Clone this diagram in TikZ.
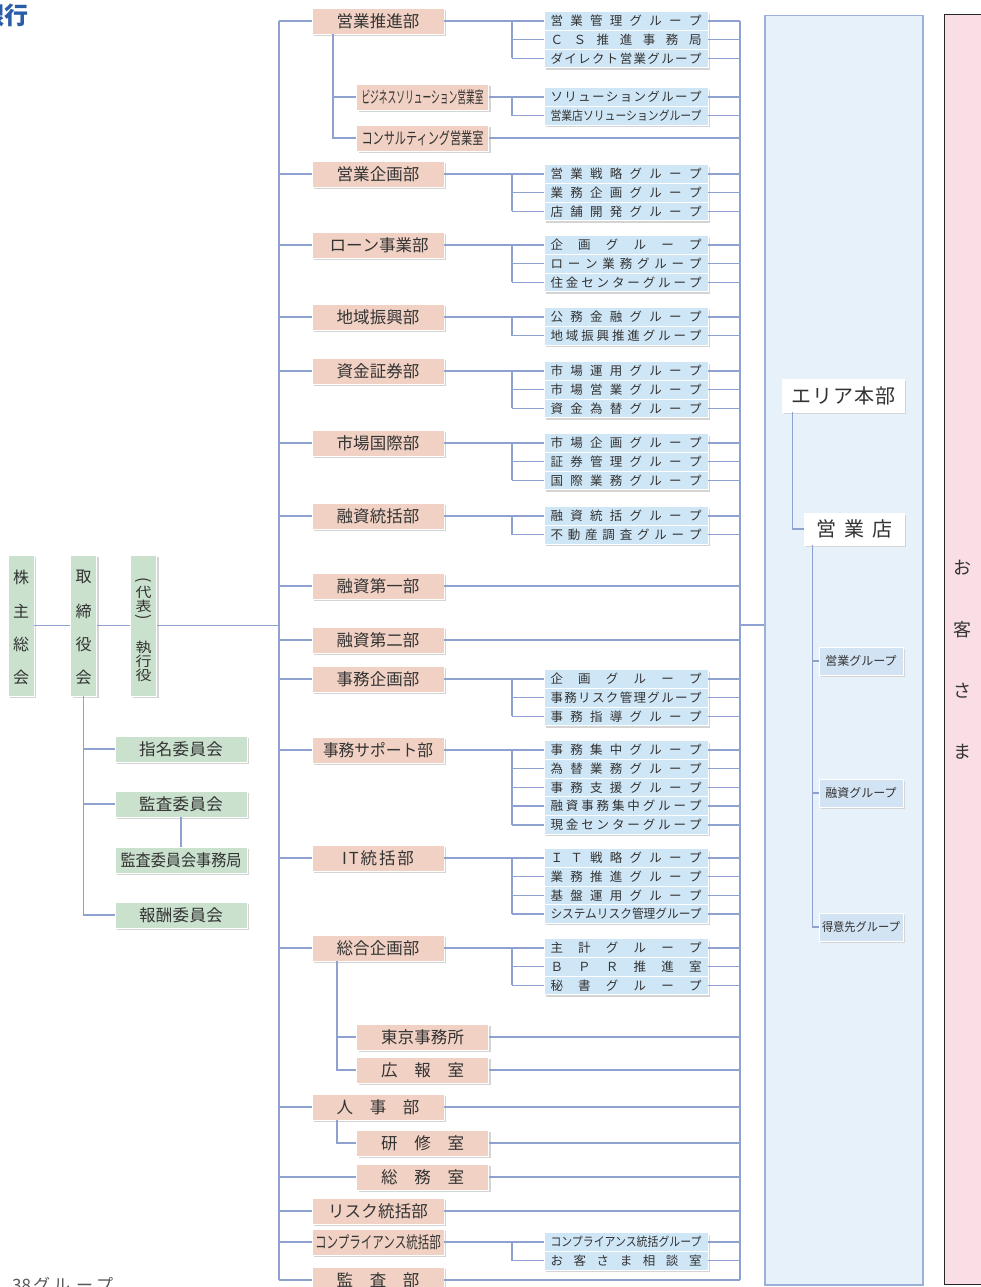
\documentclass[tikz,border=0pt]{standalone}
\usepackage{fontspec}
\setmainfont{Noto Sans CJK JP}
\usepackage{graphicx}
\usetikzlibrary{shadows}
\definecolor{lnc}{HTML}{8FA2CF}
\definecolor{deptc}{HTML}{F0D1C3}
\definecolor{grpc}{HTML}{CFE6F6}
\definecolor{grnc}{HTML}{C9E1CD}
\definecolor{areac}{HTML}{E6F1F9}
\definecolor{areae}{HTML}{9CB0D8}
\definecolor{pinkc}{HTML}{F9DEE6}
\definecolor{sgrpc}{HTML}{D2E3F3}
\definecolor{ttlc}{HTML}{2B5CA8}
\definecolor{txt}{HTML}{333333}
\makeatletter
\newcommand\dst[2][151pt]{\hbox to #1{\dst@a#2\dst@end}}
\def\dst@end{\dst@end}
\def\dst@a#1{\ifx#1\dst@end\else#1\expandafter\dst@b\fi}
\def\dst@b#1{\ifx#1\dst@end\else\hfill#1\expandafter\dst@b\fi}
\makeatother
\newcommand\sqz[2][151pt]{\resizebox{#1}{\height}{#2}}
\newcommand\vsq[1]{\scalebox{1}[0.85]{#1}}
\tikzset{
 ln/.style={draw=lnc, line width=1.5pt},
 shbox/.style={draw=white, line width=0.8pt, inner sep=0pt, text=txt,
   general shadow={fill=black!17, shadow xshift=2pt, shadow yshift=-2pt}},
 deptbox/.style={shbox, fill=deptc, minimum width=132pt, minimum height=26pt, font=\fontsize{16.5}{18}\selectfont},
 subbox/.style={deptbox},
 grpbox/.style={shbox, fill=grpc, minimum width=164pt, minimum height=18.7pt, font=\fontsize{12.5}{14}\selectfont},
 commbox/.style={shbox, fill=grnc, minimum width=132pt, minimum height=26pt, font=\fontsize{16.5}{18}\selectfont},
 vgbox/.style={shbox, fill=grnc, minimum width=26pt, minimum height=141pt},
 vch/.style={inner sep=0pt, text=txt, font=\fontsize{16}{18}\selectfont},
 abox/.style={shbox, fill=white, font=\fontsize{20}{22}\selectfont},
 sgbox/.style={shbox, fill=sgrpc, minimum width=84pt, minimum height=28pt, font=\fontsize{12}{14}\selectfont},
 custch/.style={inner sep=0pt, text=txt, font=\fontsize{18}{20}\selectfont},
}
\newcommand\grps[3]{%
  \foreach \gtext [count=\gi] in {#3}{%
    \pgfmathsetmacro\gy{#2+18.7*(\gi-1)}%
    \node[grpbox] (#1-\gi) at (626,\gy) {\gtext};
    \draw[ln] (512,\gy) -- (#1-\gi.west);
    \draw[ln] (#1-\gi.east) -- (#1-\gi.east -| rt);
    \xdef\glast{\gy}%
  }
  \draw[ln] (#1.east) -- (512,#2) -- (512,\glast);
}
\begin{document}
\begin{tikzpicture}[x=1pt,y=-1pt]
\useasboundingbox (0,0) rectangle (981,1287);
\fill[white] (0,0) rectangle (981,1287);

% title and footer
\node[anchor=east, inner sep=0pt, font=\fontsize{24}{26}\selectfont\bfseries, text=ttlc] (title) at (29,15) {銀行};
\node[anchor=north west, inner sep=0pt, font=\fontsize{17}{19}\selectfont, text=black!65] (cnt) at (12,1277) {38\hspace{2pt}グ\hspace{3pt}ル\hspace{6pt}ー\hspace{3pt}プ};

% customer box
\node[fill=pinkc, minimum width=46pt, minimum height=1269pt, anchor=north west, inner sep=0pt] (cust) at (944,15) {};
\draw[black!85, line width=1pt] (cust.north east) -- (cust.north west) -- (cust.south west) -- (cust.south east);
\foreach \c/\yy [count=\i] in {お/568,客/630,さ/691,ま/752}
  \node[custch] (cu\i) at (962,\yy) {\c};

% area box
\node[fill=areac, draw=areae, line width=1.5pt, minimum width=158pt, minimum height=1269pt, anchor=north west, inner sep=0pt] (area) at (764,15) {};
\node[abox, minimum width=122pt, minimum height=33pt] (ahq) at (843,395.5) {\dst[104pt]{エリア本部}};
\node[abox, minimum width=100pt, minimum height=32pt] (shop) at (854,529) {\dst[76pt]{営業店}};
\coordinate (av) at ([xshift=11pt]ahq.south west);
\draw[ln] (av) |- (shop.west);
\node[sgbox] (sg1) at (861,661) {営業グループ};
\node[sgbox] (sg2) at (861,793) {融資グループ};
\node[sgbox] (sg3) at (861,927) {\sqz[78pt]{得意先グループ}};
\coordinate (sv) at ([xshift=9pt]shop.south west);
\draw[ln] (sv) |- (sg3.west);
\draw[ln] (sv |- sg1.west) -- (sg1.west);
\draw[ln] (sv |- sg2.west) -- (sg2.west);

% spines
\coordinate (lt) at (279,21);
\coordinate (lb) at (279,1280);
\coordinate (rt) at (740,21);
\coordinate (rb) at (740,1280);
\draw[ln] (lt) -- (lb);
\draw[ln] (rt) -- (rb);
\coordinate (rm) at (740,625);
\draw[ln] (rm) -- (rm -| area.west);

% left governance
\node[vgbox] (kabu) at (21,625.5) {};
\node[vgbox] (tori) at (83.5,625.5) {};
\node[vgbox] (shik) at (143.5,625.5) {};
\foreach \c/\yy [count=\i] in {株/577,主/611,総/644,会/677}
  \node[vch] (ka\i) at (21,\yy) {\c};
\foreach \c/\yy [count=\i] in {取/577,締/611,役/644,会/677}
  \node[vch] (to\i) at (83.5,\yy) {\c};
\node[vch] (sh1) at (143.5,581) {\rotatebox[origin=c]{-90}{(}};
\node[vch] (sh2) at (143.5,592.5) {\vsq{代}};
\node[vch] (sh3) at (143.5,606.5) {\vsq{表}};
\node[vch] (sh4) at (143.5,618) {\rotatebox[origin=c]{-90}{)}};
\node[vch] (sh5) at (143.5,647) {\vsq{執}};
\node[vch] (sh6) at (143.5,661) {\vsq{行}};
\node[vch] (sh7) at (143.5,675) {\vsq{役}};
\draw[ln] (kabu.east) -- (tori.west);
\draw[ln] (tori.east) -- (shik.west);
\draw[ln] (shik.east) -- (shik.east -| lt);

\node[commbox] (c1) at (181,749) {\dst[84pt]{指名委員会}};
\node[commbox] (c2) at (181,804) {\dst[84pt]{監査委員会}};
\node[commbox] (c3) at (181,860) {\sqz[121pt]{監査委員会事務局}};
\node[commbox] (c4) at (181,915) {\dst[84pt]{報酬委員会}};
\draw[ln] (tori.south) |- (c4.west);
\draw[ln] (tori.south |- c1.west) -- (c1.west);
\draw[ln] (tori.south |- c2.west) -- (c2.west);
\draw[ln] (c2.south) -- (c3.north);

% departments
\node[deptbox] (d1) at (378,21) {\dst[83pt]{営業推進部}};
\node[deptbox] (d2) at (378,174) {\dst[83pt]{営業企画部}};
\node[deptbox] (d3) at (378,245) {\dst[97pt]{ローン事業部}};
\node[deptbox] (d4) at (378,317) {\dst[83pt]{地域振興部}};
\node[deptbox] (d5) at (378,371) {\dst[83pt]{資金証券部}};
\node[deptbox] (d6) at (378,443) {\dst[83pt]{市場国際部}};
\node[deptbox] (d7) at (378,516) {\dst[83pt]{融資統括部}};
\node[deptbox] (d8) at (378,586) {\dst[83pt]{融資第一部}};
\node[deptbox] (d9) at (378,640) {\dst[83pt]{融資第二部}};
\node[deptbox] (d10) at (378,679) {\dst[83pt]{事務企画部}};
\node[deptbox] (d11) at (378,750) {\sqz[110pt]{事務サポート部}};
\node[deptbox] (d12) at (378,858) {\dst[72pt]{IT統括部}};
\node[deptbox] (d13) at (378,948) {\dst[83pt]{総合企画部}};
\node[deptbox] (d14) at (378,1107) {\dst[83pt]{人事部}};
\node[deptbox] (d15) at (378,1211) {\dst[100pt]{リスク統括部}};
\node[deptbox] (d16) at (378,1242) {\sqz[126pt]{コンプライアンス統括部}};
\node[deptbox] (d17) at (378,1280) {\dst[83pt]{監査部}};
\foreach \n in {d1,d2,d3,d4,d5,d6,d7,d8,d9,d10,d11,d12,d13,d14,d15,d16,d17}
  \draw[ln] (lt |- \n.west) -- (\n.west);

% sub offices
\node[subbox] (s1) at (422.5,97) {\sqz[122pt]{ビジネスソリューション営業室}};
\node[subbox] (s2) at (422.5,138) {\sqz[122pt]{コンサルティング営業室}};
\node[subbox] (s3) at (422.5,1037) {\dst[83pt]{東京事務所}};
\node[subbox] (s4) at (422.5,1070) {\dst[83pt]{広報室}};
\node[subbox] (s5) at (422.5,1143) {\dst[83pt]{研修室}};
\node[subbox] (s6) at (422.5,1177) {\dst[83pt]{総務室}};
\coordinate (b1) at ([xshift=-45pt]d1.south);
\draw[ln] (b1) |- (s2.west);
\draw[ln] (b1 |- s1.west) -- (s1.west);
\coordinate (b13) at ([xshift=-41pt]d13.south);
\draw[ln] (b13) |- (s4.west);
\draw[ln] (b13 |- s3.west) -- (s3.west);
\coordinate (b14) at ([xshift=-41pt]d14.south);
\draw[ln] (b14) |- (s5.west);
\draw[ln] (lt |- s6.west) -- (s6.west);

% direct links to right spine
\foreach \n in {s2,d8,d9,s3,s4,d14,s5,s6,d15,d17}
  \draw[ln] (\n.east) -- (\n.east -| rt);

% groups
\grps{d1}{21}{\dst{営業管理グループ},\dst{ＣＳ推進事務局},\dst{ダイレクト営業グループ}}
\grps{s1}{97}{\dst{ソリューショングループ},\sqz{営業店ソリューショングループ}}
\grps{d2}{174}{\dst{営業戦略グループ},\dst{業務企画グループ},\dst{店舗開発グループ}}
\grps{d3}{245}{\dst{企画グループ},\dst{ローン業務グループ},\dst{住金センターグループ}}
\grps{d4}{317}{\dst{公務金融グループ},\dst{地域振興推進グループ}}
\grps{d5}{371}{\dst{市場運用グループ},\dst{市場営業グループ},\dst{資金為替グループ}}
\grps{d6}{443}{\dst{市場企画グループ},\dst{証券管理グループ},\dst{国際業務グループ}}
\grps{d7}{516}{\dst{融資統括グループ},\dst{不動産調査グループ}}
\grps{d10}{679}{\dst{企画グループ},\dst{事務リスク管理グループ},\dst{事務指導グループ}}
\grps{d11}{750}{\dst{事務集中グループ},\dst{為替業務グループ},\dst{事務支援グループ},\dst{融資事務集中グループ},\dst{現金センターグループ}}
\grps{d12}{858}{\dst{ＩＴ戦略グループ},\dst{業務推進グループ},\dst{基盤運用グループ},\sqz{システムリスク管理グループ}}
\grps{d13}{948}{\dst{主計グループ},\dst{ＢＰＲ推進室},\dst{秘書グループ}}
\grps{d16}{1242}{\sqz{コンプライアンス統括グループ},\dst{お客さま相談室}}
\end{tikzpicture}
\end{document}
